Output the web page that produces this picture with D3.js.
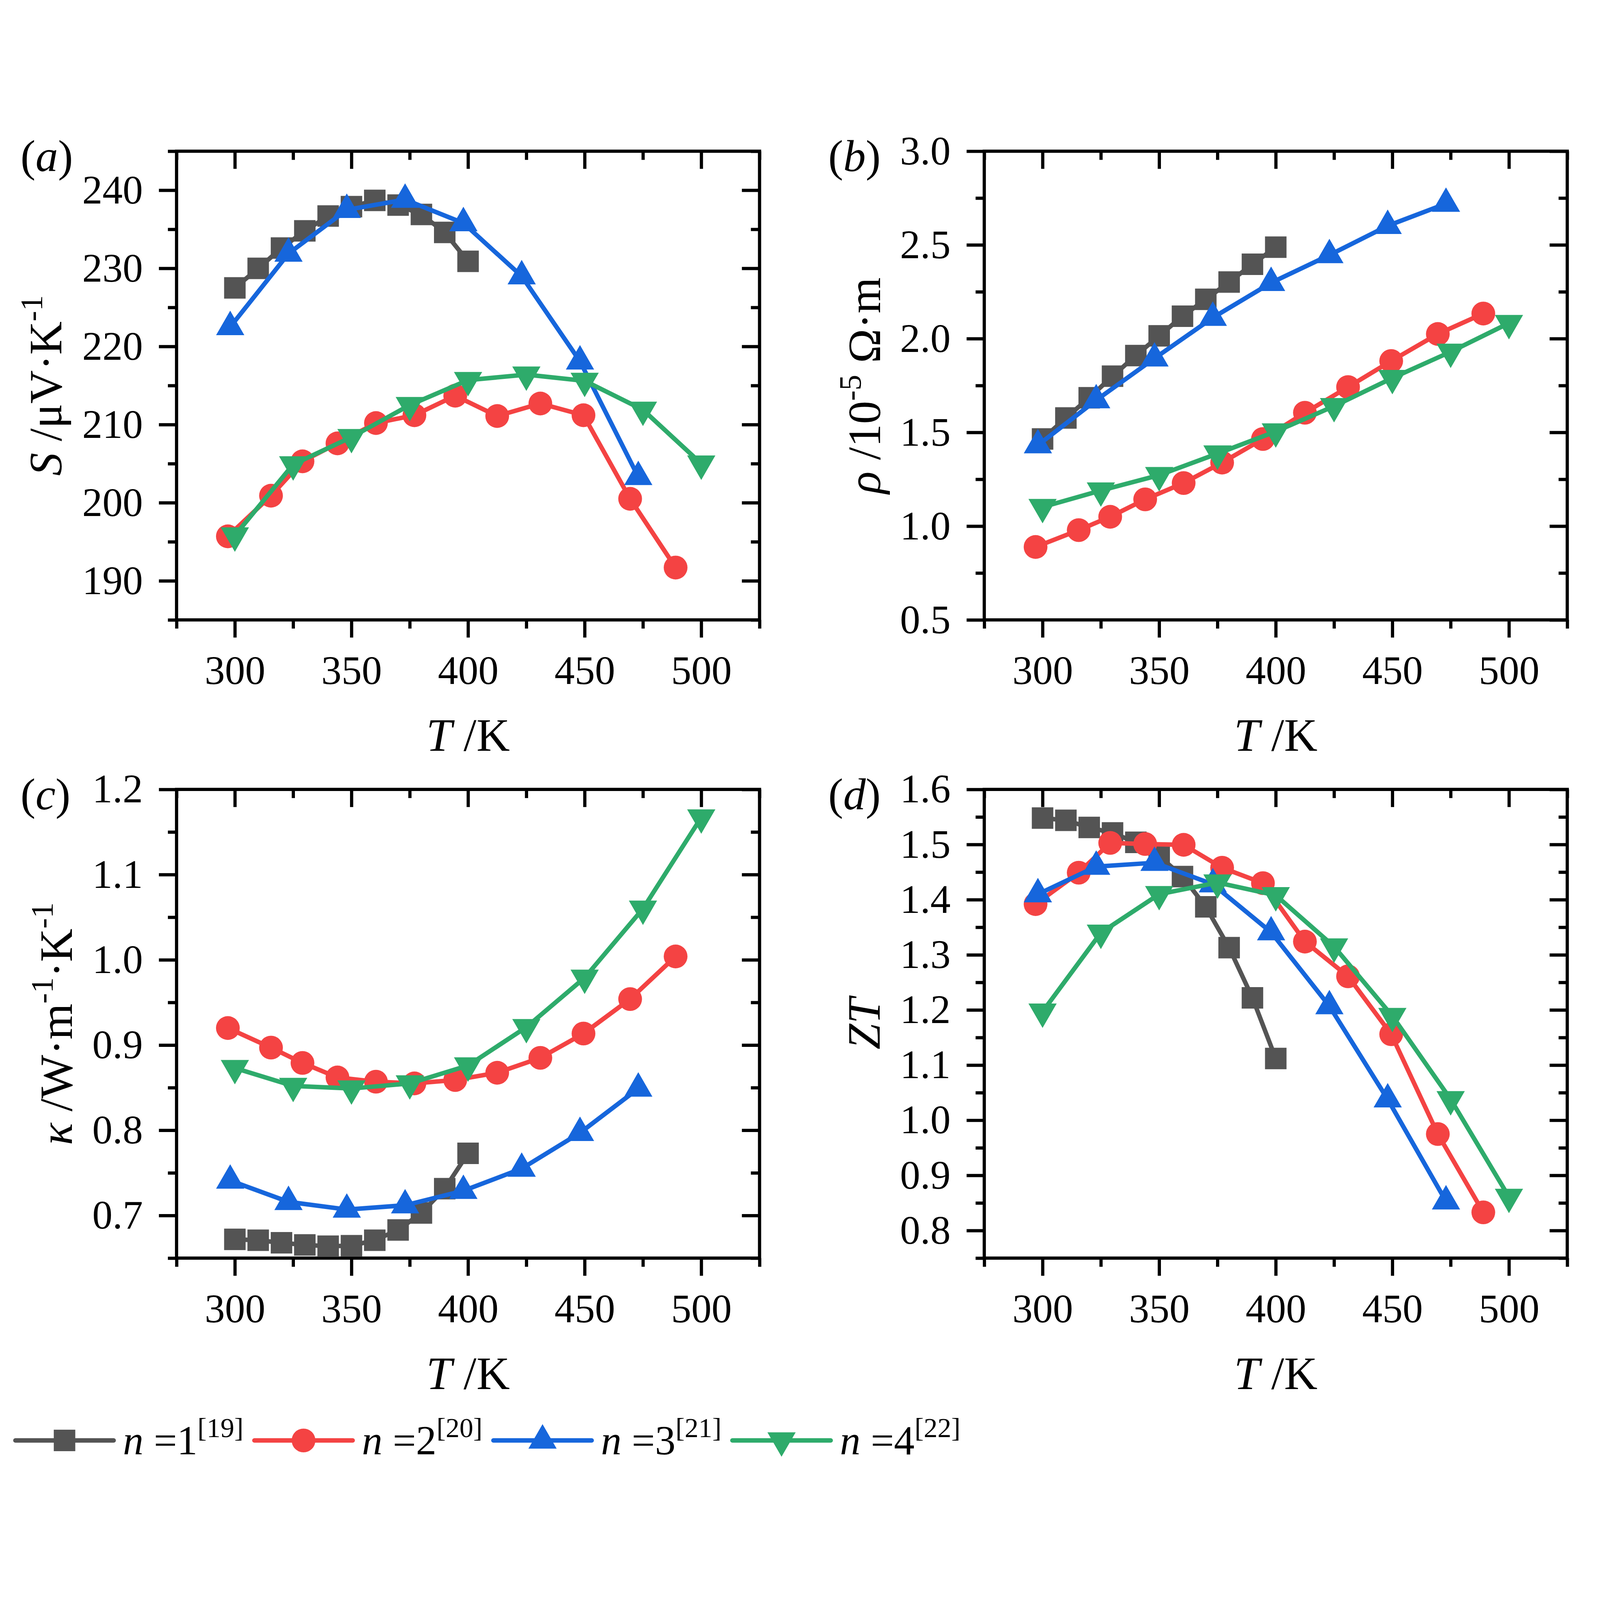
<!DOCTYPE html>
<html><head><meta charset="utf-8">
<script src="https://cdn.jsdelivr.net/npm/d3@7"></script>
<style>
html,body{margin:0;padding:0;background:#fff;width:100%;height:100%;overflow:hidden}
#chart{display:block;width:100vw;height:100vh}
</style>
</head><body>
<svg id="chart" viewBox="0 0 4984 4252" preserveAspectRatio="xMidYMid meet"></svg>
<script>
// ---------- data ----------
const seriesNames = ["n =1", "n =2", "n =3", "n =4"];
const seriesRefs = ["[19]", "[20]", "[21]", "[22]"];
const seriesColors = ["#545454", "#F44343", "#1666DC", "#2EAB6B"];
const seriesSymbols = ["square", "circle", "triangleUp", "triangleDown"];

const T1 = [300, 310, 320, 330, 340, 350, 360, 370, 380, 390, 400];
const T2 = [297, 315.5, 329, 344, 360.5, 377, 394.5, 412.5, 431, 449.5, 469.5, 489];
const T3 = [298, 323, 348, 373, 398, 423, 448, 473];
const T4 = [300, 325, 350, 375, 400, 425, 450, 475, 500];

// (a) Seebeck coefficient S / uV K^-1
const S1 = [227.5, 230.0, 232.6, 234.8, 236.7, 237.9, 238.7, 238.1, 236.9, 234.6, 230.9];
const S2 = [195.7, 200.9, 205.3, 207.6, 210.2, 211.2, 213.7, 211.1, 212.7, 211.2, 200.5, 191.7];
const S3 = [222.5, 231.9, 237.5, 238.8, 235.8, 229.0, 218.1, 203.3];
const S4 = [195.8, 204.9, 208.4, 212.5, 215.7, 216.4, 215.6, 211.9, 205.0];

// (b) resistivity rho / 1e-5 Ohm m
const R1 = [1.465, 1.577, 1.685, 1.800, 1.910, 2.015, 2.120, 2.210, 2.302, 2.397, 2.488];
const R2 = [0.889, 0.979, 1.050, 1.143, 1.230, 1.339, 1.465, 1.605, 1.742, 1.881, 2.025, 2.134];
const R3 = [1.432, 1.672, 1.895, 2.112, 2.298, 2.446, 2.602, 2.720];
const R4 = [1.102, 1.190, 1.272, 1.387, 1.505, 1.640, 1.790, 1.930, 2.083];

// (c) thermal conductivity kappa / W m^-1 K^-1
const K1 = [0.672, 0.671, 0.668, 0.6655, 0.664, 0.6645, 0.671, 0.683, 0.703, 0.7315, 0.773];
const K2 = [0.920, 0.897, 0.879, 0.862, 0.857, 0.855, 0.859, 0.8675, 0.885, 0.9135, 0.954, 1.004];
const K3 = [0.741, 0.716, 0.707, 0.712, 0.729, 0.755, 0.797, 0.849];
const K4 = [0.873, 0.852, 0.849, 0.855, 0.876, 0.921, 0.979, 1.060, 1.167];

// (d) ZT
const Z1 = [1.548, 1.544, 1.531, 1.521, 1.504, 1.479, 1.442, 1.387, 1.313, 1.222, 1.112];
const Z2 = [1.392, 1.449, 1.503, 1.501, 1.4995, 1.458, 1.430, 1.324, 1.261, 1.156, 0.975, 0.833];
const Z3 = [1.410, 1.460, 1.467, 1.428, 1.341, 1.207, 1.038, 0.853];
const Z4 = [1.197, 1.340, 1.410, 1.431, 1.408, 1.315, 1.189, 1.038, 0.861];

// axes / ticks
const xDomain = [275, 525];
const xMajor = [300, 350, 400, 450, 500];
const xMinor = [275, 325, 375, 425, 475, 525];
const xTickLabels = ["300", "350", "400", "450", "500"];

const yDomainA = [185, 245], yMajorA = [190, 200, 210, 220, 230, 240], yMinorA = [185, 195, 205, 215, 225, 235, 245];
const yDomainB = [0.5, 3.0], yMajorB = [0.5, 1.0, 1.5, 2.0, 2.5, 3.0], yMinorB = [0.75, 1.25, 1.75, 2.25, 2.75];
const yDomainC = [0.65, 1.2], yMajorC = [0.7, 0.8, 0.9, 1.0, 1.1, 1.2], yMinorC = [0.65, 0.75, 0.85, 0.95, 1.05, 1.15];
const yDomainD = [0.75, 1.6], yMajorD = [0.8, 0.9, 1.0, 1.1, 1.2, 1.3, 1.4, 1.5, 1.6], yMinorD = [0.75, 0.85, 0.95, 1.05, 1.15, 1.25, 1.35, 1.45, 1.55];

const Ts = [T1, T2, T3, T4];

// ---------- drawing ----------
const FONT = '"Liberation Serif","Times New Roman",Times,serif';
const svg = d3.select('#chart').style('font-family', FONT);
svg.append('rect').attr('width', 4984).attr('height', 4252).attr('fill', '#fff');

const W = 1816, H = 1460;
const TICK_FS = 126, TITLE_FS = 144, SUP_FS = 98, SUP_DY = 60;

const panels = [
  { label: 'a', left: 550, top: 105, dom: yDomainA, major: yMajorA, minor: yMinorA, fmt: d3.format('d'),
    data: [S1, S2, S3, S4], titleX: 191,
    title: [{ t: 'S', i: true }, { t: ' /μV·K' }, { t: '-1', sup: true }] },
  { label: 'b', left: 3066, top: 105, dom: yDomainB, major: yMajorB, minor: yMinorB, fmt: d3.format('.1f'),
    data: [R1, R2, R3, R4], titleX: 2742,
    title: [{ t: 'ρ', i: true }, { t: ' /10' }, { t: '-5', sup: true }, { t: ' Ω·m' }] },
  { label: 'c', left: 550, top: 2093, dom: yDomainC, major: yMajorC, minor: yMinorC, fmt: d3.format('.1f'),
    data: [K1, K2, K3, K4], titleX: 224,
    title: [{ t: 'κ', i: true }, { t: ' /W·m' }, { t: '-1', sup: true }, { t: '·K' }, { t: '-1', sup: true }] },
  { label: 'd', left: 3066, top: 2093, dom: yDomainD, major: yMajorD, minor: yMinorD, fmt: d3.format('.1f'),
    data: [Z1, Z2, Z3, Z4], titleX: 2740,
    title: [{ t: 'ZT', i: true }] }
];

function symbolPath(kind) {
  if (kind === 'square') return d3.symbol(d3.symbolSquare, 67 * 67)();
  if (kind === 'circle') return d3.symbol(d3.symbolCircle, Math.PI * 37 * 37)();
  return d3.symbol(d3.symbolTriangle, 3352)();
}
function symbolTransform(kind, x, y) {
  return kind === 'triangleDown' ? `translate(${x},${y}) rotate(180)` : `translate(${x},${y})`;
}

function addRichText(sel, parts) {
  let raised = false;
  parts.forEach(p => {
    const ts = sel.append('tspan').text(p.t);
    if (p.i) ts.attr('font-style', 'italic');
    if (p.sup) {
      ts.attr('font-size', SUP_FS);
      if (!raised) { ts.attr('dy', -SUP_DY); raised = true; }
    } else if (raised) {
      ts.attr('dy', SUP_DY); raised = false;
    }
  });
}

function styleAxis(a) {
  a.select('.domain').remove();
  a.attr('font-family', FONT).attr('font-size', TICK_FS);
  a.selectAll('line').attr('stroke', '#000').attr('stroke-width', 10);
  a.selectAll('text').attr('fill', '#000');
  return a;
}

panels.forEach(p => {
  const g = svg.append('g').attr('transform', `translate(${p.left},${p.top})`);
  const x = d3.scaleLinear().domain(xDomain).range([0, W]);
  const y = d3.scaleLinear().domain(p.dom).range([H, 0]);

  // bottom
  const bMaj = styleAxis(g.append('g').attr('transform', `translate(0,${H})`)
    .call(d3.axisBottom(x).tickValues(xMajor).tickSize(55).tickSizeOuter(0)
      .tickFormat((d, i) => xTickLabels[i])));
  bMaj.selectAll('text').attr('y', 200).attr('dy', null);
  styleAxis(g.append('g').attr('transform', `translate(0,${H})`)
    .call(d3.axisBottom(x).tickValues(xMinor).tickSize(27).tickSizeOuter(0).tickFormat('')));
  // top (inward)
  styleAxis(g.append('g').call(d3.axisTop(x).tickValues(xMajor).tickSize(-55).tickSizeOuter(0).tickFormat('')));
  styleAxis(g.append('g').call(d3.axisTop(x).tickValues(xMinor).tickSize(-27).tickSizeOuter(0).tickFormat('')));
  // left
  styleAxis(g.append('g').call(d3.axisLeft(y).tickValues(p.major).tickSize(55).tickPadding(50)
    .tickSizeOuter(0).tickFormat(p.fmt)));
  styleAxis(g.append('g').call(d3.axisLeft(y).tickValues(p.minor).tickSize(27).tickSizeOuter(0).tickFormat('')));
  // right (inward)
  styleAxis(g.append('g').attr('transform', `translate(${W},0)`)
    .call(d3.axisRight(y).tickValues(p.major).tickSize(-55).tickSizeOuter(0).tickFormat('')));
  styleAxis(g.append('g').attr('transform', `translate(${W},0)`)
    .call(d3.axisRight(y).tickValues(p.minor).tickSize(-27).tickSizeOuter(0).tickFormat('')));

  // frame
  g.append('rect').attr('x', 0).attr('y', 0).attr('width', W).attr('height', H)
    .attr('fill', 'none').attr('stroke', '#000').attr('stroke-width', 10);

  // series
  p.data.forEach((vals, si) => {
    const pts = vals.map((v, k) => [Ts[si][k], v]);
    const sg = g.append('g');
    sg.append('path').datum(pts)
      .attr('d', d3.line().x(d => x(d[0])).y(d => y(d[1])))
      .attr('fill', 'none').attr('stroke', seriesColors[si]).attr('stroke-width', 14)
      .attr('stroke-linejoin', 'round').attr('stroke-linecap', 'round');
    sg.selectAll('path.m').data(pts).enter().append('path').attr('class', 'm')
      .attr('d', symbolPath(seriesSymbols[si]))
      .attr('transform', d => symbolTransform(seriesSymbols[si], x(d[0]), y(d[1])))
      .attr('fill', seriesColors[si]);
  });

  // x title
  const xt = svg.append('text').attr('x', p.left + W / 2).attr('y', p.top + H + 408)
    .attr('text-anchor', 'middle').attr('font-size', TITLE_FS);
  addRichText(xt, [{ t: 'T', i: true }, { t: ' /K' }]);

  // y title
  const yt = svg.append('text')
    .attr('transform', `translate(${p.titleX},${p.top + H / 2}) rotate(-90)`)
    .attr('text-anchor', 'middle').attr('font-size', TITLE_FS);
  addRichText(yt, p.title);

  // panel label
  const lt = svg.append('text').attr('x', p.left - 486).attr('y', p.top + 62).attr('font-size', 140);
  addRichText(lt, [{ t: '(' }, { t: p.label, i: true }, { t: ')' }]);
});

// legend
const legY = 4121, legX0 = 201, legStep = 744.5;
seriesNames.forEach((name, si) => {
  const cx = legX0 + si * legStep;
  const lg = svg.append('g');
  lg.append('line').attr('x1', cx - 153).attr('x2', cx + 153).attr('y1', legY).attr('y2', legY)
    .attr('stroke', seriesColors[si]).attr('stroke-width', 14).attr('stroke-linecap', 'round');
  lg.append('path').attr('d', symbolPath(seriesSymbols[si]))
    .attr('transform', symbolTransform(seriesSymbols[si], cx, legY)).attr('fill', seriesColors[si]);
  const t = lg.append('text').attr('x', cx + 182).attr('y', 4164).attr('font-size', 128);
  t.append('tspan').attr('font-style', 'italic').text(name.slice(0, 1));
  t.append('tspan').text(name.slice(1));
  t.append('tspan').attr('font-size', 86).attr('dy', -54).text(seriesRefs[si]);
});
</script>
</body></html>
